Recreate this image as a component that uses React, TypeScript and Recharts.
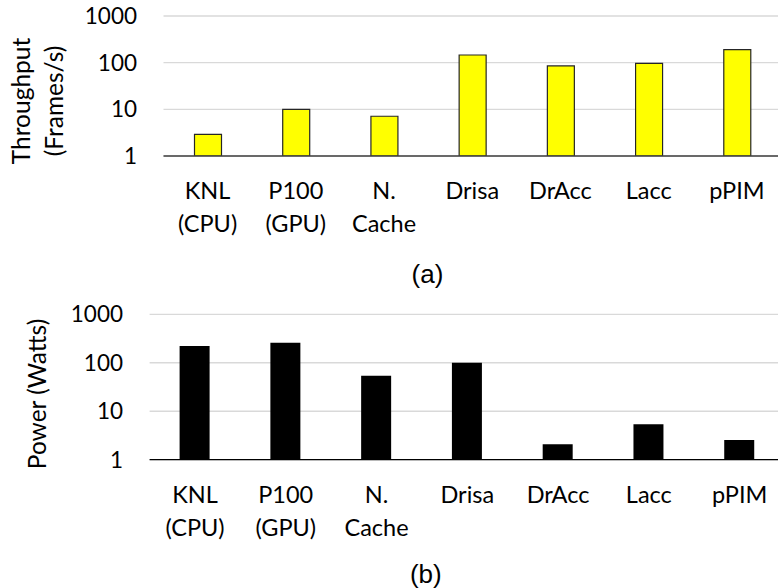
import { BarChart, Bar, XAxis, YAxis, CartesianGrid } from 'recharts'

const systems = ['KNL\n(CPU)', 'P100\n(GPU)', 'N.\nCache', 'Drisa', 'DrAcc', 'Lacc', 'pPIM']
const throughput = [2.9, 10, 7.1, 146, 85, 97, 190]
const power = [221, 258, 54, 100, 2.08, 5.4, 2.55]
const logTicks = [1, 10, 100, 1000]

const FONT = 'Lato, "Noto Sans", sans-serif'
const TEXT = '#000000'

const throughputData = systems.map((name, i) => ({ name, value: throughput[i] }))
const powerData = systems.map((name, i) => ({ name, value: power[i] }))

// two-line category labels, split on "\n"
function SystemTick({ x, y, payload }: any) {
  const lines = String(payload.value).split('\n')
  return (
    <text x={x} y={y} textAnchor="middle" fontFamily={FONT} fontSize={23.5} fill={TEXT}>
      {lines.map((line, i) => (
        <tspan key={i} x={x} y={y + 43 + i * 33}>
          {line}
        </tspan>
      ))}
    </text>
  )
}

function AxisTitle({ lines, cy }: { lines: { text: string; x: number }[]; cy: number }) {
  return (
    <g>
      {lines.map((l) => (
        <text
          key={l.text}
          x={l.x}
          y={cy}
          transform={`rotate(-90 ${l.x} ${cy})`}
          textAnchor="middle"
          fontFamily={FONT}
          fontSize={24.5}
          fill={TEXT}
        >
          {l.text}
        </text>
      ))}
    </g>
  )
}

const caption: React.CSSProperties = {
  position: 'absolute',
  width: 200,
  textAlign: 'center',
  fontFamily: 'Arial, "Liberation Sans", sans-serif',
  fontSize: 26,
  lineHeight: '26px',
  color: '#000',
}

export default function App() {
  return (
    <div style={{ position: 'relative', width: 778, height: 588, overflow: 'hidden', background: '#fff' }}>
      <style>{'body{margin:0;overflow:hidden}'}</style>

      <div style={{ position: 'absolute', left: 0, top: 0 }}>
        <BarChart
          width={800}
          height={260}
          data={throughputData}
          margin={{ top: 16, right: 19, bottom: 44, left: 103.5 }}
          barCategoryGap={0}
        >
          <CartesianGrid vertical={false} stroke="#d9d9d9" strokeWidth={1.3} />
          <XAxis
            dataKey="name"
            height={60}
            interval={0}
            tickLine={false}
            tickSize={0}
            tickMargin={0}
            axisLine={{ stroke: '#404040', strokeWidth: 1.3 }}
            tick={<SystemTick />}
          />
          <YAxis
            scale="log"
            domain={[1, 1000]}
            ticks={logTicks}
            allowDataOverflow
            width={60}
            axisLine={false}
            tickLine={false}
            tickSize={0}
            tickMargin={26.5}
            tick={{ fontFamily: FONT, fontSize: 22.5, fill: TEXT }}
            label={{
              content: () => (
                <AxisTitle
                  cy={101}
                  lines={[
                    { text: 'Throughput', x: 30 },
                    { text: '(Frames/s)', x: 63 },
                  ]}
                />
              ),
            }}
          />
          <Bar dataKey="value" barSize={27} fill="#ffff00" stroke="#262626" strokeWidth={1.2} isAnimationActive={false} />
        </BarChart>
      </div>
      <div style={{ ...caption, left: 327.5, top: 261 }}>(a)</div>

      <div style={{ position: 'absolute', left: 0, top: 290 }}>
        <BarChart
          width={800}
          height={298}
          data={powerData}
          margin={{ top: 24.3, right: 15, bottom: 68.3, left: 89.6 }}
          barCategoryGap={0}
        >
          <CartesianGrid vertical={false} stroke="#d9d9d9" strokeWidth={1.3} />
          <XAxis
            dataKey="name"
            height={60}
            interval={0}
            tickLine={false}
            tickSize={0}
            tickMargin={0}
            axisLine={{ stroke: '#000000', strokeWidth: 1.3 }}
            tick={<SystemTick />}
          />
          <YAxis
            scale="log"
            domain={[1, 1000]}
            ticks={logTicks}
            allowDataOverflow
            width={60}
            axisLine={false}
            tickLine={false}
            tickSize={0}
            tickMargin={26.6}
            tick={{ fontFamily: FONT, fontSize: 22.5, fill: TEXT }}
            label={{
              content: () => <AxisTitle cy={104} lines={[{ text: 'Power (Watts)', x: 46 }]} />,
            }}
          />
          <Bar dataKey="value" barSize={30} fill="#000000" isAnimationActive={false} />
        </BarChart>
      </div>
      <div style={{ ...caption, left: 325.8, top: 561 }}>(b)</div>
    </div>
  )
}
